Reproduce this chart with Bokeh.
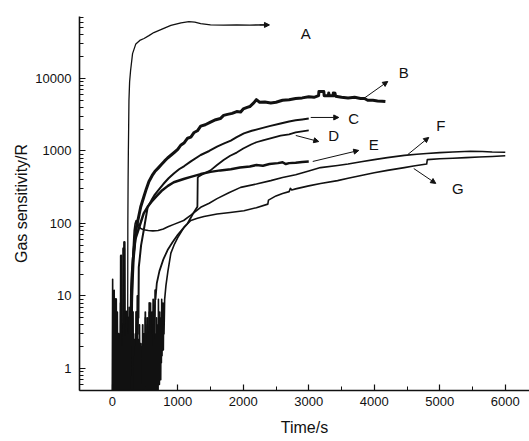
from bokeh.plotting import figure
from bokeh.models import (Range1d, FixedTicker, NumeralTickFormatter,
                          Arrow, NormalHead, Label)
from bokeh.embed import file_html
from bokeh.resources import INLINE

# ---------------- data (time in s, gas sensitivity R) ----------------
# noisy start of each curve
A_noise_t = [100, 105, 110, 115, 120, 125, 130, 135, 140, 145, 150, 155, 160, 165, 170, 175, 180, 185,
             190, 195, 200, 205, 210, 215, 220, 225, 230, 235]
A_noise_v = [0.4, 1.5, 0.3, 2.5, 0.5, 1.3, 0.3, 4, 0.6, 1.5, 0.4, 2, 0.3, 1.4, 0.5, 3, 0.3, 1.2,
             0.6, 5, 0.4, 1.5, 0.3, 2, 0.5, 1.4, 0.8, 3]
A_t = [238, 242, 246, 250, 255, 265, 280, 310, 360, 420, 485, 560, 635, 760, 895, 1050, 1170, 1260,
       1350, 1500, 1700, 1900, 2100, 2390]
A_v = [100, 400, 1000, 2000, 5000, 9000, 12900, 22000, 30000, 33500, 35600, 39000, 43000, 48000, 53900, 58500, 61000, 60000,
       57000, 55000, 54500, 55000, 54600, 54800]

B_noise_t = [150, 155, 160, 165, 170, 175, 180, 185, 190, 195, 200, 205, 210, 215, 220, 225, 230, 235,
             240, 245, 250, 255, 260, 265, 270, 275, 280, 285, 290, 295, 300]
B_noise_v = [0.4, 2, 0.3, 1.5, 0.6, 45, 0.4, 1.4, 0.3, 3, 0.5, 1.5, 0.3, 6, 0.5, 2, 0.4, 1.6,
             0.3, 4, 0.6, 1.5, 0.4, 3, 0.7, 2, 1, 5, 2, 8, 12]
B_t = [310, 320, 335, 350, 370, 400, 435, 480, 520, 560,
       610, 650, 700, 750, 800, 845, 900, 950, 1000, 1045,
       1100, 1150, 1200, 1250, 1300, 1350, 1420, 1500, 1580, 1650,
       1700, 1760, 1830, 1900, 1960, 2000, 2060, 2100, 2160, 2200,
       2250, 2330, 2420, 2500, 2600, 2700, 2800, 2900, 3000, 3080,
       3150, 3155, 3230, 3235, 3300, 3305, 3315, 3370, 3375, 3385,
       3400, 3410, 3500, 3600, 3700, 3790, 3850, 3900, 3980, 4050,
       4120, 4170]
B_v = [20, 32, 45, 64, 90, 120, 170, 230, 300, 380,
       460, 520, 580, 650, 730, 800, 880, 960, 1050, 1200,
       1300, 1500, 1550, 1800, 1900, 2200, 2300, 2500, 2700, 2800,
       3100, 3200, 3300, 3500, 3450, 3800, 4000, 4100, 4600, 5100,
       4700, 4750, 4600, 4700, 5000, 5100, 5300, 5400, 5600, 5500,
       5800, 6600, 6600, 5800, 5800, 6300, 5800, 5800, 6300, 5800,
       6300, 5700, 5500, 5400, 5500, 5300, 5300, 5000, 5000, 4900,
       4850, 4800]

C_noise_t = [200, 205, 210, 215, 220, 225, 230, 235, 240, 245, 250, 255, 260, 265, 270, 275, 280, 285,
             290, 295, 300, 305, 310, 315, 320, 325, 330, 335, 340, 345, 350, 355, 360, 365, 370, 375,
             380, 385, 390, 395, 400, 405]
C_noise_v = [0.3, 1.5, 0.5, 3, 0.4, 1.3, 0.3, 5, 0.6, 1.4, 0.4, 2.5, 0.3, 1.5, 0.5, 4, 0.3, 1.2,
             0.6, 3, 0.4, 1.5, 0.3, 6, 0.5, 1.4, 0.3, 2.5, 0.6, 1.5, 0.4, 3, 0.8, 6, 1, 3,
             2, 10, 3, 8, 5, 25]
C_t = [415, 440, 480, 540, 600, 650, 720, 780, 860, 940, 1020, 1100, 1200, 1350, 1480, 1600, 1700, 1810,
       1900, 2010, 2130, 2270, 2400, 2570, 2700, 2800, 2900, 3000]
C_v = [30, 50, 80, 167, 210, 250, 300, 350, 420, 490, 560, 620, 720, 880, 1000, 1150, 1260, 1390,
       1550, 1750, 1900, 2050, 2200, 2400, 2550, 2650, 2720, 2800]

D_noise_t = [340, 345, 350, 355, 360, 365, 370, 375, 380, 385, 390, 395, 400, 405, 410, 415, 420, 425,
             430, 435,
             440, 445, 450, 455, 460, 465, 470, 475, 480, 485, 490, 495, 500, 505, 510, 515, 520, 525,
             530, 535, 540, 545, 550, 555, 560, 565, 570, 575, 580, 585, 590, 595, 600, 605, 610, 615,
             620, 625, 630, 635, 640, 645, 650, 655, 660]
D_noise_v = [0.3, 1.5, 0.5, 2, 0.3, 1.4, 0.6, 3, 0.4, 1.5, 0.3, 2.5, 0.5, 1.3, 0.3, 4, 0.6, 1.5,
             0.4, 2.2,
             0.4, 2, 0.5, 1.4, 0.3, 4, 0.6, 1.5, 0.4, 3, 0.3, 1.4, 0.5, 6, 0.3, 1.5, 0.6, 2.5,
             0.4, 5, 0.3, 1.5, 0.5, 3, 0.4, 8, 0.6, 1.5, 0.8, 4, 0.5, 2.5, 1, 6, 0.7, 3,
             1.2, 9, 2, 5, 1.5, 7, 3, 12, 9]
D_t = [680, 720, 780, 845, 920, 1000, 1080, 1150, 1230, 1300, 1305, 1320, 1400, 1500, 1600, 1700, 1800,
       1900, 2000, 2120, 2200, 2300, 2400, 2500, 2570, 2700, 2800, 2900, 3000]
D_v = [15, 22, 32, 43, 55, 70, 85, 100, 135, 170, 430, 445, 490, 540, 640, 750, 860,
       950, 1080, 1230, 1320, 1400, 1480, 1570, 1630, 1700, 1800, 1870, 1920]

E_noise_t = [40, 45, 50, 55, 60, 65, 70, 75, 80, 85, 90, 95, 100, 105, 110, 115, 120, 125,
             130, 135, 140, 145, 150, 155, 160, 165, 170, 175, 180, 185, 190, 195, 200, 205, 210, 215,
             220, 225, 230, 235, 240, 245, 250, 255, 260, 265, 270, 275, 280, 285, 290]
E_noise_v = [0.3, 1.5, 0.5, 9, 0.3, 1.4, 0.6, 2, 0.3, 1.5, 0.4, 3, 0.5, 1.3, 0.3, 2, 0.6, 1.5,
             0.4, 36, 0.5, 1.3, 0.3, 3, 0.6, 1.5, 0.4, 2, 0.3, 55, 0.5, 2, 0.3, 1.4, 0.7, 4,
             0.5, 2.5, 0.3, 1.5, 0.6, 3, 0.4, 5, 1, 2.5, 0.8, 6, 2, 4, 12]
E_t = [300, 320, 350, 405, 480, 540, 600, 680, 750, 850, 940, 1090, 1200, 1350, 1500, 1650, 1810, 1950,
       2100, 2200, 2300, 2400, 2530, 2600, 2650, 2700, 2800, 2900, 3000]
E_v = [20, 35, 60, 85, 138, 170, 200, 240, 280, 330, 370, 410, 440, 480, 515, 540, 560, 590,
       610, 640, 625, 660, 680, 700, 660, 680, 690, 705, 716]

F_noise_t = [0, 6, 12, 18, 24, 30, 36, 42, 48, 54, 60, 66, 72, 78, 84, 90, 96, 102, 108, 114,
             120, 126, 132, 138, 144, 150, 156, 162, 168, 174, 180, 186, 192, 198, 204, 210, 216, 222, 228, 234,
             240, 246, 252, 258, 264, 270, 276, 282, 288, 294, 300]
F_noise_v = [0.4, 17, 0.3, 1.4, 0.5, 12, 0.3, 1.5, 0.6, 3, 0.3, 1.4, 0.5, 6, 0.3, 1.3, 0.4, 2.5, 0.3, 1.5,
             0.5, 8, 0.3, 1.4, 0.4, 2, 0.3, 1.5, 0.6, 4, 0.3, 1.2, 0.5, 2.8, 0.3, 1.5, 0.4, 5, 0.3, 1.4,
             0.6, 3, 0.4, 7, 0.5, 2, 0.8, 4, 1.5, 9, 5]
F_t = [310, 320, 335, 350, 365, 380, 400, 435, 480, 550, 620, 700, 780, 850, 950, 1090, 1200, 1350, 1480,
       1600, 1780, 1960, 2200, 2420, 2600, 2800, 3000, 3180, 3440, 3600, 3800, 4000, 4200, 4460, 4650,
       4800, 5000, 5200, 5470, 5650, 5800, 6000]
F_v = [20, 45, 80, 100, 110, 105, 95, 85, 82, 80, 79, 80, 84, 90, 98, 110, 130, 167, 190,
       220, 265, 315, 350, 390, 430, 470, 530, 590, 630, 660, 710, 760, 810, 870, 900,
       925, 950, 970, 990, 985, 970, 960]

G_noise_t = [450, 455, 460, 465, 470, 475, 480, 485, 490, 495, 500, 505, 510, 515, 520, 525, 530, 535,
             540, 545, 550, 555, 560, 565, 570, 575, 580, 585, 590, 595, 600, 605, 610, 615, 620, 625,
             630, 635, 640, 645, 650, 655, 660, 665, 670, 675, 680, 685, 690, 695, 700, 705, 710, 715,
             720, 725, 730, 735, 740, 745, 750, 755, 760, 765, 770, 775, 780, 785, 790, 795]
G_noise_v = [0.4, 1.5, 0.3, 2, 0.5, 1.4, 0.3, 3, 0.6, 1.5,
             0.4, 5, 0.3, 1.3, 0.5, 2.5, 0.3, 4, 0.6, 1.5,
             0.4, 3, 0.3, 6, 0.5, 2, 0.4, 8, 0.7, 3,
             0.3, 1.4, 0.5, 2, 0.3, 4, 0.6, 1.5, 0.4, 2.5,
             0.5, 1.3, 0.3, 3, 0.6, 5, 0.4, 1.5, 0.7, 4,
             0.5, 9, 0.8, 3, 0.6, 6, 1, 2.5, 0.7, 5,
             1.2, 9, 1.5, 4, 2, 8, 1.8, 6, 3, 5]
G_t = [800, 820, 850, 895, 950, 1000, 1100, 1200, 1300, 1400, 1500, 1600, 1800, 2010, 2200, 2375, 2385,
       2500, 2600, 2700, 2720, 2740, 2800, 3000, 3180, 3440, 3600, 3800, 4000, 4200, 4460, 4600, 4800,
       4810, 5000, 5200, 5400, 5600, 5800, 6000]
G_v = [9, 14, 22, 39, 52, 64, 90, 110, 118, 125, 130, 135, 142, 150, 165, 185, 210,
       240, 260, 275, 305, 290, 300, 330, 357, 390, 420, 460, 500, 540, 590, 620, 660,
       760, 780, 795, 810, 825, 840, 860]

series_names = ["A", "B", "C", "D", "E", "F", "G"]
series_t = [A_noise_t + A_t, B_noise_t + B_t, C_noise_t + C_t, D_noise_t + D_t,
            E_noise_t + E_t, F_noise_t + F_t, G_noise_t + G_t]
series_v = [A_noise_v + A_v, B_noise_v + B_v, C_noise_v + C_v, D_noise_v + D_v,
            E_noise_v + E_v, F_noise_v + F_v, G_noise_v + G_v]

# axes ticks
x_major_ticks = [0, 1000, 2000, 3000, 4000, 5000, 6000]
x_minor_ticks = [500, 1500, 2500, 3500, 4500, 5500]
y_major_ticks = [1, 10, 100, 1000, 10000]
y_minor_mult = [2, 3, 4, 5, 6, 7, 8, 9]
y_decades = [0.1, 1, 10, 100, 1000, 10000]
y_minor_ticks = [m * d for d in y_decades for m in y_minor_mult]
y_label = "Gas sensitivity/R"
x_label = "Time/s"

# label positions (data space) and arrows (tail -> head)
label_pos = {"A": (2954, 41900), "B": (4450, 12100), "C": (3687, 2810), "D": (3382, 1636),
             "E": (3992, 1233), "F": (5015, 2247), "G": (5275, 305)}
arrows = {"A": (2250, 54800, 2400, 54800), "B": (3840, 5300, 4206, 9090),
          "C": (3030, 2900, 3458, 2900), "D": (2802, 1636, 3153, 1350),
          "E": (3061, 717, 3763, 1017), "F": (4511, 892, 4832, 1537),
          "G": (4603, 573, 4939, 357)}

widths = {"A": 1.3, "B": 3.0, "C": 2.0, "D": 1.8, "E": 2.5, "F": 1.6, "G": 1.6}

# ---------------- figure ----------------
FONT = "Liberation Sans"
p = figure(width=529, height=441, y_axis_type="log",
           x_range=Range1d(-500, 6370), y_range=Range1d(0.497, 71600),
           output_backend="svg", toolbar_location=None,
           min_border_left=79, min_border_right=0, min_border_top=16, min_border_bottom=51)
p.outline_line_color = None
p.xgrid.visible = False
p.ygrid.visible = False
p.background_fill_color = "white"
p.border_fill_color = "white"

for name, t, v in zip(series_names, series_t, series_v):
    assert len(t) == len(v), name
    p.line(t, v, line_width=widths[name], line_color="#111111", line_join="round")

for ax in (p.xaxis[0], p.yaxis[0]):
    ax.axis_line_width = 1.6
    ax.axis_line_color = "#111111"
    ax.major_tick_in = 6
    ax.major_tick_out = 0
    ax.minor_tick_in = 4
    ax.minor_tick_out = 0
    ax.major_tick_line_color = "#111111"
    ax.minor_tick_line_color = "#111111"
    ax.major_tick_line_width = 1.2
    ax.minor_tick_line_width = 1
    ax.major_label_text_font = FONT
    ax.major_label_text_font_size = "13px"
    ax.major_label_text_color = "#111111"
    ax.axis_label_text_font = FONT
    ax.axis_label_text_font_size = "16px"
    ax.axis_label_text_font_style = "normal"
    ax.axis_label_text_color = "#111111"

p.xaxis.ticker = FixedTicker(ticks=x_major_ticks, minor_ticks=x_minor_ticks)
p.xaxis.axis_label = x_label
p.xaxis.major_label_standoff = 6
p.xaxis.axis_label_standoff = 10

p.yaxis.ticker = FixedTicker(ticks=y_major_ticks, minor_ticks=y_minor_ticks)
p.yaxis.formatter = NumeralTickFormatter(format="0")
p.yaxis.axis_label = y_label
p.yaxis.major_label_standoff = 8
p.yaxis.axis_label_standoff = 2

for name in series_names:
    x0, y0, x1, y1 = arrows[name]
    p.add_layout(Arrow(x_start=x0, y_start=y0, x_end=x1, y_end=y1, line_width=1,
                       line_color="#111111",
                       end=NormalHead(size=5, fill_color="#111111", line_color="#111111")))
    lx, ly = label_pos[name]
    p.add_layout(Label(x=lx, y=ly, text=name, text_font=FONT, text_font_size="15px",
                       text_align="center", text_baseline="middle", text_color="#111111"))

open("out.html", "w").write(file_html(p, INLINE))
